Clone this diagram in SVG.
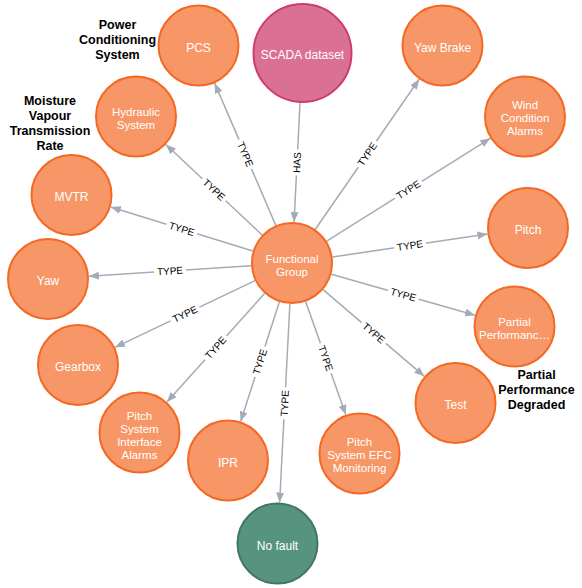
<svg xmlns="http://www.w3.org/2000/svg" width="582" height="588" viewBox="0 0 582 588">
<defs>
<style>
.n circle{stroke-width:2}
.o circle{fill:#F79767;stroke:#F36924}
.p circle{fill:#DA7194;stroke:#CC3C6C}
.g circle{fill:#569480;stroke:#447666}
.n text{font-family:"Liberation Sans",Arial,sans-serif;font-size:12px;fill:#fff;text-anchor:middle}
.n text.m{font-size:11.5px}
.e line{stroke:#A5ABB6;stroke-width:1.5;marker-end:url(#arr)}
.e rect{fill:#fff}
.e text{font-family:"Liberation Sans",Arial,sans-serif;font-size:10px;fill:#000;text-anchor:middle}
.cap{font-family:"Liberation Sans",Arial,sans-serif;font-size:12.5px;font-weight:bold;fill:#000;text-anchor:middle}
</style>
<marker id="arr" viewBox="0 0 10 8" refX="10" refY="4" markerWidth="10" markerHeight="8" markerUnits="userSpaceOnUse" orient="auto">
<path d="M0,0 L10,4 L0,8 Z" fill="#A5ABB6"/>
</marker>
</defs>
<rect width="582" height="588" fill="#fff"/>
<g id="edges" class="e">
<line x1="275.81" y1="225.33" x2="214.69" y2="83.17"/>
<g transform="translate(245.25,154.25) rotate(66.74)"><rect x="-16" y="-6" width="32" height="12"/><text y="3.5">TYPE</text></g>
<line x1="262.11" y1="234.93" x2="165.89" y2="144.57"/>
<g transform="translate(214,189.75) rotate(43.2)"><rect x="-16" y="-6" width="32" height="12"/><text y="3.5">TYPE</text></g>
<line x1="252.82" y1="250.92" x2="110.68" y2="207.08"/>
<g transform="translate(181.75,229) rotate(17.14)"><rect x="-16" y="-6" width="32" height="12"/><text y="3.5">TYPE</text></g>
<line x1="251.09" y1="265.68" x2="88.91" y2="276.32"/>
<g transform="translate(170,271) rotate(-3.75)"><rect x="-16" y="-6" width="32" height="12"/><text y="3.5">TYPE</text></g>
<line x1="254.99" y1="280.64" x2="115.01" y2="347.36"/>
<g transform="translate(185,314) rotate(-25.49)"><rect x="-16" y="-6" width="32" height="12"/><text y="3.5">TYPE</text></g>
<line x1="264.58" y1="293.48" x2="166.92" y2="402.02"/>
<g transform="translate(215.75,347.75) rotate(-48.02)"><rect x="-16" y="-6" width="32" height="12"/><text y="3.5">TYPE</text></g>
<line x1="279.36" y1="302" x2="240.64" y2="421.5"/>
<g transform="translate(260,361.75) rotate(-72.04)"><rect x="-16" y="-6" width="32" height="12"/><text y="3.5">TYPE</text></g>
<line x1="289.88" y1="303.95" x2="279.62" y2="502.55"/>
<g transform="translate(284.75,403.25) rotate(-87.04)"><rect x="-16" y="-6" width="32" height="12"/><text y="3.5">TYPE</text></g>
<line x1="305.69" y1="301.65" x2="345.81" y2="414.85"/>
<g transform="translate(325.75,358.25) rotate(70.49)"><rect x="-16" y="-6" width="32" height="12"/><text y="3.5">TYPE</text></g>
<line x1="323.14" y1="289.67" x2="424.36" y2="376.33"/>
<g transform="translate(373.75,333) rotate(40.57)"><rect x="-16" y="-6" width="32" height="12"/><text y="3.5">TYPE</text></g>
<line x1="331.43" y1="274.25" x2="475.07" y2="315.25"/>
<g transform="translate(403.25,294.75) rotate(15.93)"><rect x="-16" y="-6" width="32" height="12"/><text y="3.5">TYPE</text></g>
<line x1="332.56" y1="256.99" x2="487.44" y2="234.01"/>
<g transform="translate(410,245.5) rotate(-8.44)"><rect x="-16" y="-6" width="32" height="12"/><text y="3.5">TYPE</text></g>
<line x1="326.71" y1="241.18" x2="490.29" y2="138.32"/>
<g transform="translate(408.5,189.75) rotate(-32.16)"><rect x="-16" y="-6" width="32" height="12"/><text y="3.5">TYPE</text></g>
<line x1="315.33" y1="229.28" x2="419.17" y2="79.22"/>
<g transform="translate(367.25,154.25) rotate(-55.32)"><rect x="-16" y="-6" width="32" height="12"/><text y="3.5">TYPE</text></g>
<line x1="300" y1="102.94" x2="294.05" y2="222.05"/>
<g transform="translate(297.03,162.5) rotate(-87.14)"><rect x="-13" y="-6" width="26" height="12"/><text y="3.5">HAS</text></g>
</g>
<g id="n-scada" class="n p"><circle cx="302.5" cy="53" r="49"/><text x="302.5" y="59">SCADA dataset</text></g>
<g id="n-fg" class="n o"><circle cx="292" cy="263" r="40"/><text class="m" x="292" y="262.5">Functional</text><text class="m" x="292" y="275.5">Group</text></g>
<g id="n-pcs" class="n o"><circle cx="198.5" cy="45.5" r="40"/><text x="198.5" y="51.5">PCS</text></g>
<g id="n-hyd" class="n o"><circle cx="136" cy="116.5" r="40"/><text class="m" x="136" y="116">Hydraulic</text><text class="m" x="136" y="129">System</text></g>
<g id="n-mvtr" class="n o"><circle cx="71.5" cy="195" r="40"/><text x="71.5" y="201">MVTR</text></g>
<g id="n-yaw" class="n o"><circle cx="48" cy="279" r="40"/><text x="48" y="285">Yaw</text></g>
<g id="n-gear" class="n o"><circle cx="78" cy="365" r="40"/><text x="78" y="371">Gearbox</text></g>
<g id="n-psia" class="n o"><circle cx="139.5" cy="432.5" r="40"/><text class="m" x="139.5" y="419.5">Pitch</text><text class="m" x="139.5" y="432.5">System</text><text class="m" x="139.5" y="445.5">Interface</text><text class="m" x="139.5" y="458.5">Alarms</text></g>
<g id="n-ipr" class="n o"><circle cx="228" cy="460.5" r="40"/><text x="228" y="466.5">IPR</text></g>
<g id="n-nofault" class="n g"><circle cx="277.5" cy="543.5" r="40"/><text x="277.5" y="549.5">No fault</text></g>
<g id="n-psefc" class="n o"><circle cx="359.5" cy="453.5" r="40"/><text class="m" x="359.5" y="446">Pitch</text><text class="m" x="359.5" y="459">System EFC</text><text class="m" x="359.5" y="472">Monitoring</text></g>
<g id="n-test" class="n o"><circle cx="455.5" cy="403" r="40"/><text x="455.5" y="409">Test</text></g>
<g id="n-partial" class="n o"><circle cx="514.5" cy="326.5" r="40"/><text class="m" x="514.5" y="326">Partial</text><text class="m" x="514.5" y="339">Performanc…</text></g>
<g id="n-pitch" class="n o"><circle cx="528" cy="228" r="40"/><text x="528" y="234">Pitch</text></g>
<g id="n-wind" class="n o"><circle cx="525" cy="116.5" r="40"/><text class="m" x="525" y="109">Wind</text><text class="m" x="525" y="122">Condition</text><text class="m" x="525" y="135">Alarms</text></g>
<g id="n-yawbrake" class="n o"><circle cx="442.5" cy="45.5" r="40"/><text x="442.5" y="51.5">Yaw Brake</text></g>
<g id="captions">
<text class="cap" x="117.5" y="29">Power</text>
<text class="cap" x="117.5" y="44">Conditioning</text>
<text class="cap" x="117.5" y="59">System</text>
<text class="cap" x="50" y="105">Moisture</text>
<text class="cap" x="50" y="120">Vapour</text>
<text class="cap" x="50" y="135">Transmission</text>
<text class="cap" x="50" y="150">Rate</text>
<text class="cap" x="536.5" y="379">Partial</text>
<text class="cap" x="536.5" y="394">Performance</text>
<text class="cap" x="536.5" y="409">Degraded</text>
</g>
</svg>
